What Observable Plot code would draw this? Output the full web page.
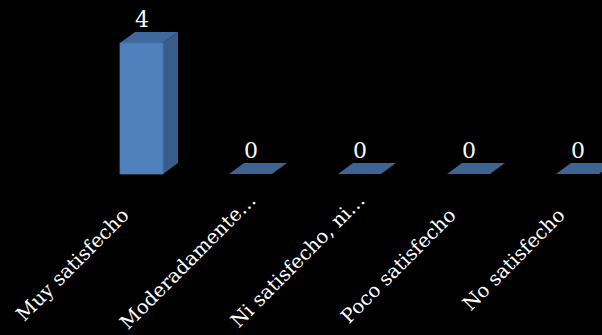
<!DOCTYPE html>
<html><head><meta charset="utf-8">
<script src="https://cdn.jsdelivr.net/npm/d3@7"></script>
<script src="https://cdn.jsdelivr.net/npm/@observablehq/plot@0.6"></script>
<style>html,body{margin:0;padding:0;background:#000;overflow:hidden;}</style>
</head><body><div id="chart"></div>
<script>
const categories = ["Muy satisfecho", "Moderadamente…", "Ni satisfecho, ni…", "Poco satisfecho", "No satisfecho"];
const values = [4, 0, 0, 0, 0];
const valueTicks = [0, 4];

const data = categories.map((c, i) => ({cat: c, value: values[i], truncated: c.endsWith("…")}));

const FRONT = "#4F81BD", TOP = "#40689A", SIDE = "#385D8A", TOP0 = "#3E6494";
const DX = 15, DY = -11;
const FONT = "'DejaVu Serif', 'Liberation Serif', serif";

function bar3d(index, scales) {
  const x = scales.x, y = scales.y;
  const bw = x.bandwidth();
  const g = d3.create("svg:g");
  for (const d of data) {
    const x0 = x(d.cat), x1 = x0 + bw, yv = y(d.value), yb = y(0);
    if (yb > yv) {
      g.append("polygon")
        .attr("points", [[x1, yv], [x1 + DX, yv + DY], [x1 + DX, yb + DY], [x1, yb]].join(" "))
        .attr("fill", SIDE);
    }
    g.append("polygon")
      .attr("points", [[x0, yv], [x1, yv], [x1 + DX, yv + DY], [x0 + DX, yv + DY]].join(" "))
      .attr("fill", d.value ? TOP : TOP0);
  }
  return g.node();
}

const chart = Plot.plot({
  width: 602,
  height: 335,
  marginTop: 43,
  marginBottom: 161,
  marginLeft: 0,
  marginRight: 0,
  style: {background: "black", overflow: "hidden"},
  x: {domain: categories, range: [87, 632], paddingInner: 0.6055, paddingOuter: 0.30275, axis: null},
  y: {domain: [valueTicks[0], valueTicks[1]], axis: null},
  marks: [
    bar3d,
    Plot.barY(data, {x: "cat", y: "value", fill: FRONT, stroke: "#4677B0", strokeWidth: 0.8}),
    Plot.text(data, {x: "cat", y: "value", text: d => String(d.value), dy: -16.5, lineAnchor: "bottom",
      fill: "white", fontSize: 22, fontFamily: FONT}),
    Plot.text(data.filter(d => !d.truncated), {x: "cat", frameAnchor: "bottom", text: "cat", rotate: -45,
      textAnchor: "end", lineAnchor: "bottom", dx: -12, dy: 42, fill: "white", fontSize: 19.5, fontFamily: FONT}),
    Plot.text(data.filter(d => d.truncated), {x: "cat", frameAnchor: "bottom", text: "cat", rotate: -45,
      textAnchor: "end", lineAnchor: "bottom", dx: 6, dy: 27, fill: "white", fontSize: 19.5, fontFamily: FONT})
  ]
});
document.getElementById("chart").appendChild(chart);
</script>
</body></html>
